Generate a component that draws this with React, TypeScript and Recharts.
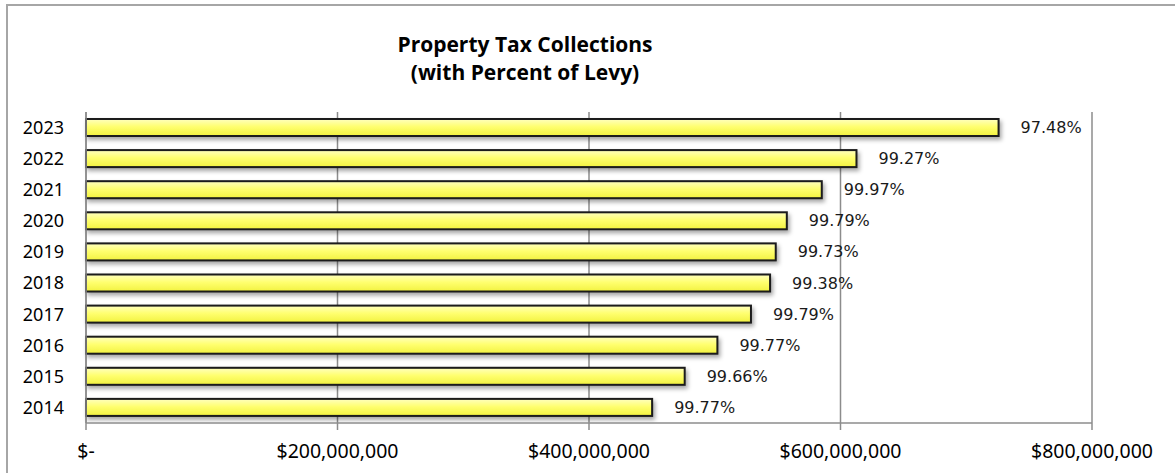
import { BarChart, Bar, XAxis, YAxis, CartesianGrid, LabelList } from 'recharts';

const years = ['2014', '2015', '2016', '2017', '2018', '2019', '2020', '2021', '2022', '2023'];
// collections in dollars
const collections = [
  450200000, 476100000, 502100000, 528800000, 544000000, 548500000, 557300000, 585100000, 612700000,
  725700000,
];
// percent of levy collected
const percentOfLevy = [99.77, 99.66, 99.77, 99.79, 99.38, 99.73, 99.79, 99.97, 99.27, 97.48];
const xTicks = [0, 200000000, 400000000, 600000000, 800000000];

const data = years.map((year, i) => ({ year, amount: collections[i], pct: percentOfLevy[i] }));

const money = (v: number) => (v === 0 ? '$-' : '$' + v.toLocaleString('en-US'));

const BarShape = (props: any) => {
  const { x, y, width, height, index } = props;
  if (width <= 0) return null;
  const g = `grad-${index}`;
  const f = `shadow-${index}`;
  return (
    <g>
      <defs>
        <linearGradient id={g} x1="0" y1="0" x2="0" y2="1">
          <stop offset="0%" stopColor="#ffffc0" />
          <stop offset="45%" stopColor="#ffff70" />
          <stop offset="100%" stopColor="#f2f240" />
        </linearGradient>
        <filter id={f} x="-5%" y="-50%" width="110%" height="220%">
          <feDropShadow dx="2" dy="3" stdDeviation="2" floodColor="#000" floodOpacity="0.35" />
        </filter>
      </defs>
      <rect x={x} y={y} width={width} height={height} fill={`url(#${g})`} stroke="#1a1a1a" strokeWidth={2} filter={`url(#${f})`} />
    </g>
  );
};

const PctLabel = (props: any) => {
  const { x, y, width, height, value } = props;
  return (
    <text
      x={x + width + 22}
      y={y + height / 2}
      dominantBaseline="central"
      fontFamily="DejaVu Sans"
      fontSize={16}
      fill="#1a1a1a"
    >
      {Number(value).toFixed(2)}%
    </text>
  );
};

export default function App() {
  return (
    <div style={{ position: 'absolute', left: 0, top: 0, width: 1175, height: 473, overflow: 'hidden', background: '#fff' }}>
      {/* frame, open on the right and bottom */}
      <div
        style={{
          position: 'absolute',
          left: 6,
          top: 4,
          width: 1180,
          height: 480,
          border: '2px solid #a6a6a6',
          boxSizing: 'border-box',
        }}
      />

      {/* title */}
      <div
        style={{
          position: 'absolute',
          left: 325,
          top: 30,
          width: 400,
          textAlign: 'center',
          fontFamily: 'Open Sans',
          fontWeight: 700,
          fontSize: 21,
          lineHeight: '28px',
          color: '#000',
        }}
      >
        Property Tax Collections
        <br />
        (with Percent of Levy)
      </div>

      <div style={{ position: 'absolute', left: 0, top: 0 }}>
        <BarChart
          width={1175}
          height={473}
          data={data}
          layout="vertical"
          margin={{ top: 112, right: 83, bottom: 20, left: 0 }}
          barCategoryGap={0}
        >
          <CartesianGrid horizontal={false} stroke="#8c8c8c" strokeWidth={1.5} />
          <XAxis
            type="number"
            domain={[0, 800000000]}
            ticks={xTicks}
            tickFormatter={money}
            height={30}
            stroke="#8c8c8c"
            strokeWidth={1.5}
            tickSize={7}
            tickMargin={14}
            tick={{ fill: '#000', fontFamily: 'Noto Sans', fontSize: 19.5 }}
          />
          <YAxis
            type="category"
            dataKey="year"
            reversed
            width={86}
            stroke="#8c8c8c"
            strokeWidth={1.5}
            tickLine={false}
            tickSize={0}
            tickMargin={22}
            tick={{ fill: '#000', fontFamily: 'Noto Sans', fontSize: 18 }}
          />
          <Bar dataKey="amount" barSize={17} shape={<BarShape />} isAnimationActive={false}>
            <LabelList dataKey="pct" content={<PctLabel />} />
          </Bar>
        </BarChart>
      </div>
    </div>
  );
}
